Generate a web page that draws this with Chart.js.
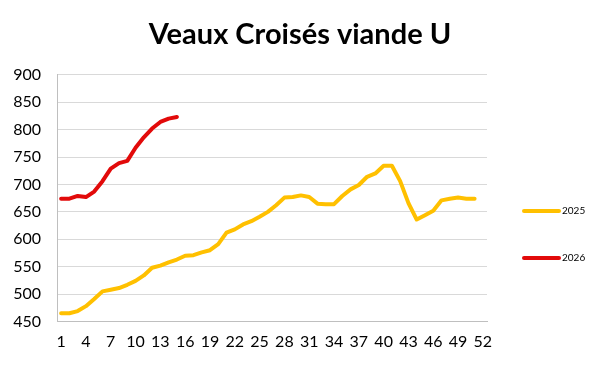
<!DOCTYPE html>
<html>
<head>
<meta charset="utf-8">
<script src="https://cdn.jsdelivr.net/npm/chart.js@4.4.1/dist/chart.umd.min.js"></script>
<style>
	html, body { margin: 0; padding: 0; background: #fff; }
	#wrap { width: 600px; height: 369px; }
</style>
</head>
<body>
<div id="wrap"><canvas id="chart" width="600" height="369"></canvas></div>
<script>
// semaines
const weeks = [1, 2, 3, 4, 5, 6, 7, 8, 9, 10, 11, 12, 13, 14, 15, 16, 17, 18, 19, 20,
	21, 22, 23, 24, 25, 26, 27, 28, 29, 30, 31, 32, 33, 34, 35, 36, 37, 38, 39, 40,
	41, 42, 43, 44, 45, 46, 47, 48, 49, 50, 51, 52];

const prix2025 = [465, 465, 469, 478, 491, 505, 508, 511, 517, 524, 534, 548, 552, 558, 563, 570, 571, 576,
	580, 591, 612, 618, 627, 633, 641, 650, 662, 676, 677, 680, 677, 665, 664, 664, 679,
	691, 699, 714, 720, 734, 734, 706, 666, 636, 644, 652, 671, 674, 676, 674, 674];

const prix2026 = [674, 674, 679, 677, 687, 706, 729, 739, 743, 767, 786, 802, 814, 820, 823];

const yTicks = [450, 500, 550, 600, 650, 700, 750, 800, 850, 900];

const seriesNames = ['2025', '2026'];
const seriesColors = ['#FFC000', '#E20A0A'];

// legende a droite, dessinee a la main pour coller a la position d'origine
const sideLegend = {
	id: 'sideLegend',
	afterDraw(chart) {
		const ctx = chart.ctx;
		const rows = [211, 258];
		ctx.save();
		chart.data.datasets.forEach(function(ds, i) {
			const y = rows[i];
			ctx.strokeStyle = ds.borderColor;
			ctx.lineWidth = 4;
			ctx.lineCap = 'round';
			ctx.beginPath();
			ctx.moveTo(524, y);
			ctx.lineTo(559, y);
			ctx.stroke();
			ctx.fillStyle = '#000';
			ctx.font = '10px Lato';
			ctx.textBaseline = 'middle';
			ctx.textAlign = 'left';
			ctx.fillText(ds.label, 562, y);
		});
		ctx.restore();
	}
};

new Chart(document.getElementById('chart'), {
	type: 'line',
	data: {
		labels: weeks,
		datasets: [
			{
				label: seriesNames[0],
				data: prix2025,
				borderColor: seriesColors[0],
				backgroundColor: seriesColors[0],
				borderWidth: 4,
				borderJoinStyle: 'round',
				borderCapStyle: 'round',
				pointRadius: 0,
				tension: 0,
				fill: false
			},
			{
				label: seriesNames[1],
				data: prix2026,
				borderColor: seriesColors[1],
				backgroundColor: seriesColors[1],
				borderWidth: 4,
				borderJoinStyle: 'round',
				borderCapStyle: 'round',
				pointRadius: 0,
				tension: 0,
				fill: false
			}
		]
	},
	options: {
		responsive: false,
		animation: false,
		devicePixelRatio: 1,
		layout: {
			padding: { left: 0, right: 0, top: 1, bottom: 0 }
		},
		plugins: {
			legend: { display: false },
			tooltip: { enabled: false },
			title: {
				display: true,
				text: 'Veaux Croisés viande U',
				color: '#000',
				font: { family: 'Lato', size: 29, weight: 'bold' },
				padding: { top: 16, bottom: 23 }
			}
		},
		scales: {
			x: {
				offset: true,
				grid: { display: false, drawTicks: false },
				border: { display: true, color: '#bfbfbf', width: 1 },
				ticks: {
					autoSkip: false,
					maxRotation: 0,
					color: '#000',
					padding: 11,
					font: { family: 'Lato', size: 16 },
					callback: function(v, i) { return i % 3 === 0 ? weeks[i] : ''; }
				},
				afterFit: function(scale) { scale.height = 47.5; }
			},
			y: {
				min: yTicks[0],
				max: yTicks[yTicks.length - 1],
				afterBuildTicks: function(scale) {
					scale.ticks = yTicks.map(function(v) { return { value: v }; });
				},
				grid: { color: '#d9d9d9', drawTicks: false },
				border: { display: true, color: '#bfbfbf', width: 1 },
				ticks: {
					color: '#000',
					padding: 16,
					font: { family: 'Lato', size: 16 }
				},
				afterFit: function(scale) { scale.width = 57; }
			},
			// axe vide a droite : reserve la place de la legende
			side: {
				type: 'linear',
				position: 'right',
				grid: { display: false, drawTicks: false },
				border: { display: false },
				ticks: { display: false },
				afterFit: function(scale) { scale.width = 113; }
			}
		}
	},
	plugins: [sideLegend]
});
</script>
</body>
</html>
